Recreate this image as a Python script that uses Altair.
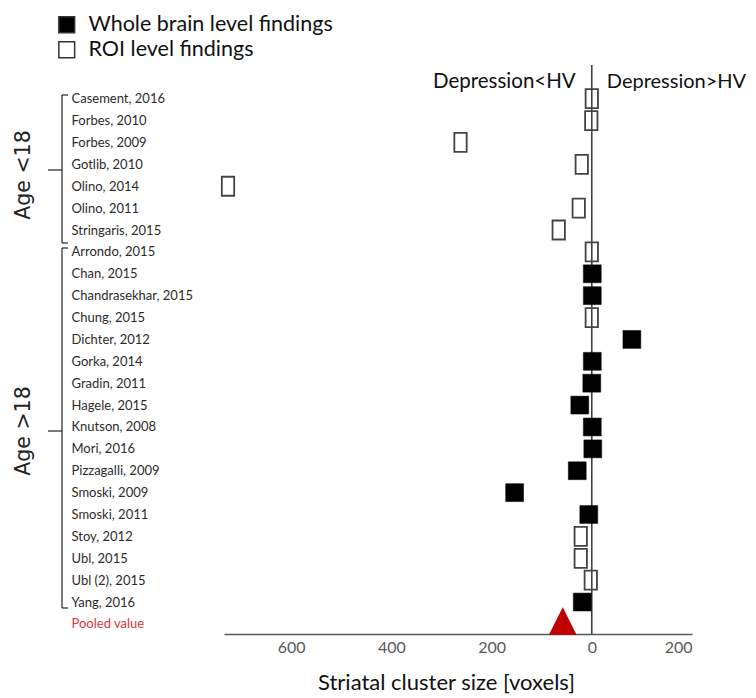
import altair as alt
import pandas as pd

# ---- data ----
studies = ["Casement, 2016", "Forbes, 2010", "Forbes, 2009", "Gotlib, 2010",
           "Olino, 2014", "Olino, 2011", "Stringaris, 2015", "Arrondo, 2015",
           "Chan, 2015", "Chandrasekhar, 2015", "Chung, 2015", "Dichter, 2012",
           "Gorka, 2014", "Gradin, 2011", "Hagele, 2015", "Knutson, 2008",
           "Mori, 2016", "Pizzagalli, 2009", "Smoski, 2009", "Smoski, 2011",
           "Stoy, 2012", "Ubl, 2015", "Ubl (2), 2015", "Yang, 2016"]
# positive = Depression<HV (plotted to the left), negative = Depression>HV
cluster_size = [0, 1, 262, 20, 726, 26, 66, 0,
                -1, -1, 0, -80,
                -1, 0, 24, -1,
                -2, 29, 154, 6,
                22, 22, 2, 19]
finding_type = ["ROI level findings"] * 8 + \
    ["Whole brain level findings", "Whole brain level findings", "ROI level findings",
     "Whole brain level findings", "Whole brain level findings", "Whole brain level findings",
     "Whole brain level findings", "Whole brain level findings", "Whole brain level findings",
     "Whole brain level findings", "Whole brain level findings", "Whole brain level findings",
     "ROI level findings", "ROI level findings", "ROI level findings",
     "Whole brain level findings"]
pooled_label = "Pooled value"
pooled_value = 58
x_ticks = [600, 400, 200, 0, -200]
legend_items = ["Whole brain level findings", "ROI level findings"]
direction_labels = ["Depression<HV", "Depression>HV"]
age_groups = ["Age <18", "Age >18"]

df = pd.DataFrame({"study": studies, "size": cluster_size, "type": finding_type})
df_pool = pd.DataFrame({"study": [pooled_label], "size": [pooled_value]})
row_order = studies + [pooled_label]

FONT = "Lato"

xscale = alt.Scale(domain=[-200, 734], reverse=True, nice=False, zero=False)
yscale = alt.Scale(type="point", domain=row_order, padding=1.11, align=0.77)

x_enc = alt.X("size:Q", scale=xscale,
              axis=alt.Axis(values=x_ticks, labelExpr="abs(datum.value)",
                            title="Striatal cluster size  [voxels]",
                            ticks=False, grid=False, domainColor="#595959",
                            domainWidth=1.5, labelColor="#595959",
                            labelFontSize=16, labelFont=FONT, labelPadding=5,
                            titleFont=FONT, titleFontSize=22, titleFontWeight="normal",
                            titleColor="#111", titlePadding=17, titleX=222))
y_enc = alt.Y("study:N", scale=yscale, sort=row_order,
              axis=alt.Axis(title=None, ticks=False, tickSize=0, domain=False, grid=False,
                            labelAlign="left", labelPadding=153, labelFont=FONT,
                            labelFontSize=13,
                            labelColor={"condition": {"test": "datum.value == 'Pooled value'",
                                                      "value": "#d43a3a"},
                                        "value": "#2b2b2b"}))

fill_enc = alt.Fill("type:N", title=None,
                    scale=alt.Scale(domain=legend_items, range=["#000000", "transparent"]),
                    legend=alt.Legend(orient="none", legendX=-168, legendY=-51,
                                      symbolType="square", symbolSize=250,
                                      symbolStrokeColor="#333", symbolStrokeWidth=1.5,
                                      labelFont=FONT, labelFontSize=21.5, labelColor="#111",
                                      labelLimit=0, labelOffset=11, rowPadding=2, padding=0))

zero_rule = alt.Chart(pd.DataFrame({"z": [0]})).mark_rule(
    color="#404040", strokeWidth=1.6).encode(x=alt.X("z:Q", scale=xscale))

open_pts = alt.Chart(df).transform_filter(
    alt.datum.type == "ROI level findings").mark_point(
    shape="M-0.65,-1H0.65V1H-0.65Z", size=361, filled=True, opacity=1,
    stroke="#444", strokeWidth=1.8).encode(x=x_enc, y=y_enc, fill=fill_enc)

filled_pts = alt.Chart(df).transform_filter(
    alt.datum.type == "Whole brain level findings").mark_point(
    shape="square", size=320, filled=True, opacity=1, stroke="#000",
    strokeWidth=0.5).encode(x=x_enc, y=y_enc, fill=fill_enc)

pool_pt = alt.Chart(df_pool).mark_point(
    shape="M0,-1L1,1L-1,1Z", size=760, filled=True, opacity=1, color="#c00000"
).encode(x=x_enc, y=y_enc, yOffset=alt.value(-3))

# direction labels
dir_df = pd.DataFrame({"x": [32, -30], "t": direction_labels})
dir_left = alt.Chart(dir_df.iloc[[0]]).mark_text(
    align="right", baseline="middle", font=FONT, fontSize=20.5, color="#111"
).encode(x=alt.X("x:Q", scale=xscale), y=alt.value(17), text="t:N")
dir_right = alt.Chart(dir_df.iloc[[1]]).mark_text(
    align="left", baseline="middle", font=FONT, fontSize=20, color="#111"
).encode(x=alt.X("x:Q", scale=xscale), y=alt.value(17), text="t:N")

# braces for age groups (annotation, positioned outside the plot area)
BR = "#222"
def brace(top, bottom, mid):
    one = pd.DataFrame({"a": [0]})
    return [
        alt.Chart(one).mark_rule(color=BR, strokeWidth=1.2).encode(
            x=alt.value(-162), y=alt.value(top), y2=alt.value(bottom)),
        alt.Chart(one).mark_rule(color=BR, strokeWidth=1.2).encode(
            x=alt.value(-162), x2=alt.value(-156), y=alt.value(top)),
        alt.Chart(one).mark_rule(color=BR, strokeWidth=1.2).encode(
            x=alt.value(-162), x2=alt.value(-156), y=alt.value(bottom)),
        alt.Chart(one).mark_rule(color=BR, strokeWidth=1.2).encode(
            x=alt.value(-176), x2=alt.value(-162), y=alt.value(mid)),
    ]

age_df = pd.DataFrame({"t": age_groups})
age1 = alt.Chart(age_df.iloc[[0]]).mark_text(
    angle=270, align="center", baseline="middle", font="DejaVu Sans",
    fontSize=20.5, color="#222").encode(x=alt.value(-200), y=alt.value(110), text="t:N")
age2 = alt.Chart(age_df.iloc[[1]]).mark_text(
    angle=270, align="center", baseline="middle", font="DejaVu Sans",
    fontSize=20.5, color="#222").encode(x=alt.value(-200), y=alt.value(366), text="t:N")

layers = [zero_rule, open_pts, filled_pts, pool_pt, dir_left, dir_right, age1, age2]
layers += brace(30, 178, 105)
layers += brace(183, 543, 366)

chart = alt.layer(*layers).properties(
    width=468, height=569,
    autosize=alt.AutoSizeParams(type="none"),
    padding={"left": 216, "top": 57, "right": 56, "bottom": 63},
).configure_view(stroke=None).resolve_scale(x="shared", y="shared")

chart.save("out.html", embed_options={"renderer": "svg", "actions": False})
